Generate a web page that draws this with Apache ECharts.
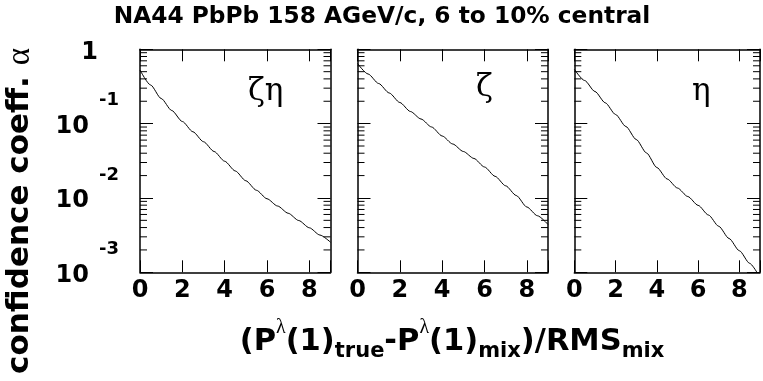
<!DOCTYPE html>
<html>
<head>
<meta charset="utf-8">
<script src="https://cdn.jsdelivr.net/npm/echarts@6/dist/echarts.min.js"></script>
<style>
html,body{margin:0;padding:0;background:#fff;}
#c{width:763px;height:381px;}
</style>
</head>
<body>
<div id="c"></div>
<script>
// ---- data ----
var panelNames = ['ζη', 'ζ', 'η'];
var xZetaEta = [0, 0.5, 1, 1.5, 2, 2.5, 3, 3.5, 4, 4.5, 5, 5.5, 6, 6.5, 7, 7.5, 8, 8.5, 9];
var yZetaEta = [0.5266, 0.3309, 0.2179, 0.1502, 0.1068, 0.0777, 0.0571, 0.0422, 0.0312, 0.0231, 0.01704, 0.0127, 0.00976, 0.00779, 0.00623, 0.00497, 0.00397, 0.00317, 0.00254];
var xZeta = [0, 0.5, 1, 1.5, 2, 2.5, 3, 3.5, 4, 4.5, 5, 5.5, 6, 6.5, 7, 7.5, 8, 8.5, 9];
var yZeta = [0.6442, 0.4653, 0.3466, 0.2583, 0.1924, 0.1456, 0.1154, 0.0901, 0.0682, 0.0532, 0.0422, 0.034, 0.0261, 0.01956, 0.01457, 0.01079, 0.00756, 0.00577, 0.0044];
var xEta = [0, 0.5, 1, 1.5, 2, 2.5, 3, 3.5, 4, 4.5, 5, 5.5, 6, 6.5, 7, 7.5, 8, 8.5, 8.85];
var yEta = [0.5382, 0.3804, 0.2706, 0.1906, 0.1327, 0.0915, 0.0612, 0.0403, 0.0257, 0.018, 0.01361, 0.01046, 0.00796, 0.0059, 0.00416, 0.00285, 0.00195, 0.00132, 0.001];
var xTickLabels = [0, 2, 4, 6, 8];
var yDecades = [1, 0.1, 0.01, 0.001];
var yMinorTicks = [0.002, 0.003, 0.004, 0.005, 0.006, 0.007, 0.008, 0.009,
                   0.02, 0.03, 0.04, 0.05, 0.06, 0.07, 0.08, 0.09,
                   0.2, 0.3, 0.4, 0.5, 0.6, 0.7, 0.8, 0.9];
var xMin = 0, xMax = 9, yMin = 0.001, yMax = 1;

var panelX = [xZetaEta, xZeta, xEta];
var panelY = [yZetaEta, yZeta, yEta];

// ---- layout ----
var SANS = 'DejaVu Sans';
var gridLefts = [140, 357.5, 574.3];
var gridW = 190.5, gridTop = 49.3, gridH = 223;
var greekPos = [[248, 76], [476, 72], [692, 76]];

var grids = [], xAxes = [], yAxes = [], series = [], graphics = [];
var lineStyleAxis = {color: '#000', width: 1.5};

for (var i = 0; i < 3; i++) {
  grids.push({left: gridLefts[i], top: gridTop, width: gridW, height: gridH, containLabel: false});
  xAxes.push({
    type: 'value', gridIndex: i, min: xMin, max: xMax, interval: 2, position: 'bottom',
    axisLine: {show: true, lineStyle: lineStyleAxis, onZero: false},
    axisTick: {show: true, inside: true, length: 12, lineStyle: {color: '#000', width: 1}},
    splitLine: {show: false},
    axisLabel: {
      show: true, margin: 6, color: '#000', fontFamily: SANS, fontWeight: 'bold', fontSize: 24,
      formatter: function (v) { return xTickLabels.indexOf(v) >= 0 ? String(v) : ''; }
    }
  });
  xAxes.push({
    type: 'value', gridIndex: i, min: xMin, max: xMax, interval: 2, position: 'top',
    axisLine: {show: true, lineStyle: lineStyleAxis, onZero: false},
    axisTick: {show: true, inside: true, length: 12, lineStyle: {color: '#000', width: 1}},
    splitLine: {show: false}, axisLabel: {show: false}
  });
  yAxes.push({
    type: 'log', logBase: 10, gridIndex: i, min: yMin, max: yMax, position: 'left',
    axisLine: {show: true, lineStyle: lineStyleAxis, onZero: false},
    axisTick: {show: true, inside: true, length: 13, lineStyle: {color: '#000', width: 1}},
    splitLine: {show: false},
    axisLabel: {
      show: i === 0, margin: 21, color: '#000', fontFamily: SANS, fontWeight: 'bold',
      formatter: function (v) {
        if (Math.abs(v - 1) < 1e-9) return '{one|1}';
        var e = Math.round(Math.log(v) / Math.LN10);
        return '{b|10}{s|' + e + '}';
      },
      rich: {
        one: {fontFamily: SANS, fontWeight: 'bold', fontSize: 24, color: '#000', padding: [6, 21, 0, 0]},
        b: {fontFamily: SANS, fontWeight: 'bold', fontSize: 24, color: '#000', padding: [6, 0, 0, 0]},
        s: {fontFamily: SANS, fontWeight: 'bold', fontSize: 18, color: '#000', padding: [0, 0, 46, 10]}
      }
    }
  });
  yAxes.push({
    type: 'log', logBase: 10, gridIndex: i, min: yMin, max: yMax, position: 'right',
    axisLine: {show: true, lineStyle: lineStyleAxis, onZero: false},
    axisTick: {show: true, inside: true, length: 13, lineStyle: {color: '#000', width: 1}},
    splitLine: {show: false}, axisLabel: {show: false}
  });

  var pts = [];
  for (var k = 0; k < panelX[i].length; k++) pts.push([panelX[i][k], panelY[i][k]]);
  series.push({
    type: 'line', xAxisIndex: 2 * i, yAxisIndex: 2 * i, data: pts,
    showSymbol: false, symbol: 'none', smooth: 0.25, smoothMonotone: 'x', clip: true,
    lineStyle: {color: '#000', width: 1}, silent: true, animation: false
  });
  series.push({
    type: 'custom', xAxisIndex: 2 * i, yAxisIndex: 2 * i, silent: true, animation: false,
    data: yMinorTicks.map(function (v) { return [xMin, v]; }),
    renderItem: function (params, api) {
      var v = api.value(1);
      var pl = api.coord([xMin, v]);
      var pr = api.coord([xMax, v]);
      return {type: 'group', children: [
        {type: 'line', shape: {x1: pl[0], y1: pl[1], x2: pl[0] + 7, y2: pl[1]}, style: {stroke: '#000', lineWidth: 1}},
        {type: 'line', shape: {x1: pr[0] - 7, y1: pr[1], x2: pr[0], y2: pr[1]}, style: {stroke: '#000', lineWidth: 1}}
      ]};
    }
  });

  graphics.push({
    type: 'text', left: greekPos[i][0], top: greekPos[i][1], silent: true,
    style: {text: panelNames[i], font: '31px "DejaVu Serif"', fill: '#000'}
  });
}

// title
graphics.push({
  type: 'text', x: 382, y: 17, silent: true,
  style: {text: 'NA44 PbPb 158 AGeV/c, 6 to 10% central', font: 'bold 23.3px "DejaVu Sans"', fill: '#000',
          align: 'center', verticalAlign: 'middle'}
});
// y axis title (rotated)
graphics.push({
  type: 'text', x: 20, y: 211, rotation: Math.PI / 2, silent: true,
  style: {
    text: '{m|confidence coeff. }{g|α}', align: 'center', verticalAlign: 'middle',
    rich: {
      m: {fontFamily: SANS, fontWeight: 'bold', fontSize: 31, fill: '#000'},
      g: {fontFamily: 'Liberation Serif', fontSize: 33, fill: '#000'}
    }
  }
});
// x axis title
graphics.push({
  type: 'text', x: 452, y: 342, silent: true,
  style: {
    text: '{m|(P}{l|λ}{m|(1)}{s|true}{m|-P}{l|λ}{m|(1)}{s|mix}{m|)/RMS}{s|mix}',
    align: 'center', verticalAlign: 'middle',
    rich: {
      m: {fontFamily: SANS, fontWeight: 'bold', fontSize: 30.5, fill: '#000'},
      l: {fontFamily: 'Liberation Serif', fontSize: 20, fill: '#000', padding: [0, 0, 28, 0]},
      s: {fontFamily: SANS, fontWeight: 'bold', fontSize: 21, fill: '#000', padding: [20, 0, 0, 0]}
    }
  }
});

var chart = echarts.init(document.getElementById('c'), null, {renderer: 'canvas'});
chart.setOption({
  animation: false,
  backgroundColor: '#fff',
  grid: grids, xAxis: xAxes, yAxis: yAxes, series: series, graphic: graphics
});
</script>
</body>
</html>
